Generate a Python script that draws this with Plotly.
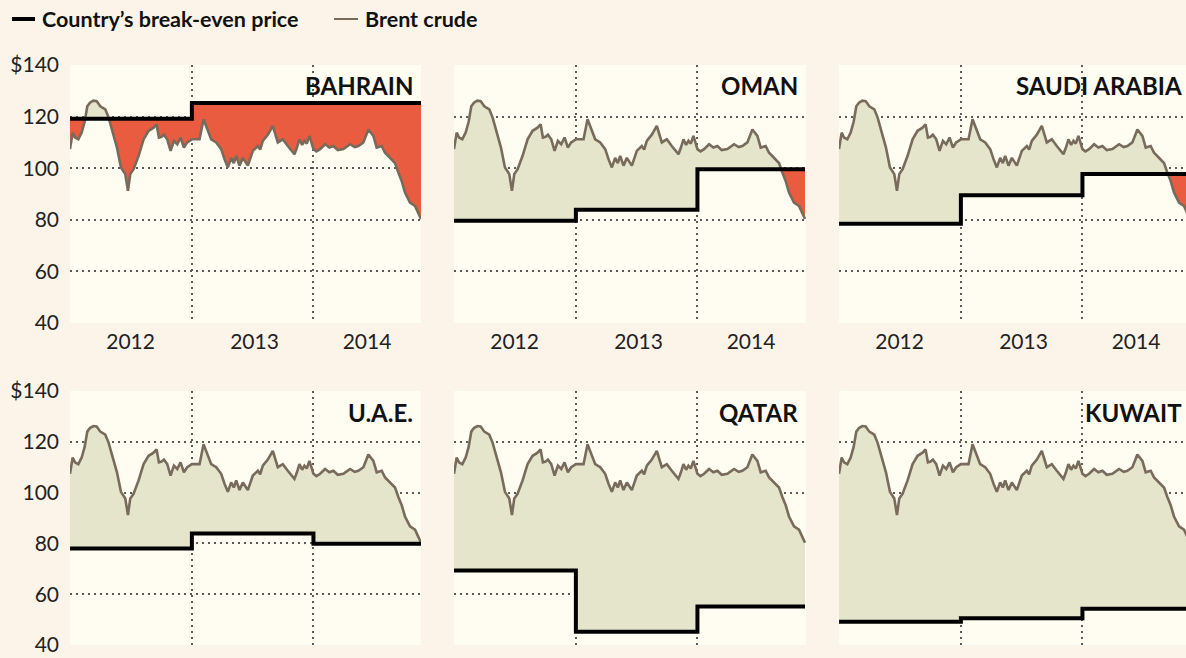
import numpy as np
import pandas as pd
import plotly.graph_objects as go

# ---------------- data ----------------
brent_dates = [
    "2012-01-01", "2012-01-09", "2012-01-16", "2012-01-26", "2012-02-05", "2012-02-14",
    "2012-02-22", "2012-03-01", "2012-03-11", "2012-03-21", "2012-04-01", "2012-04-16",
    "2012-04-26", "2012-05-06", "2012-05-21", "2012-06-02", "2012-06-15", "2012-06-23",
    "2012-06-30", "2012-07-10", "2012-07-25", "2012-08-09", "2012-08-24", "2012-09-08",
    "2012-09-17", "2012-09-24", "2012-10-02", "2012-10-09", "2012-10-19", "2012-10-29",
    "2012-11-08", "2012-11-18", "2012-11-28", "2012-12-08", "2012-12-18", "2013-01-01",
    "2013-01-24", "2013-02-05", "2013-02-18", "2013-02-28", "2013-03-15", "2013-03-30",
    "2013-04-09", "2013-04-19", "2013-04-29", "2013-05-07", "2013-05-14", "2013-05-24",
    "2013-06-03", "2013-06-10", "2013-06-18", "2013-07-03", "2013-07-18", "2013-07-25",
    "2013-08-02", "2013-08-17", "2013-09-01", "2013-09-16", "2013-10-01", "2013-10-16",
    "2013-11-05", "2013-11-12", "2013-11-20", "2013-11-28", "2013-12-05", "2013-12-12",
    "2013-12-20", "2014-01-01", "2014-01-10", "2014-01-21", "2014-02-05", "2014-02-18",
    "2014-03-02", "2014-03-15", "2014-04-01", "2014-04-21", "2014-05-05", "2014-05-16",
    "2014-05-31", "2014-06-15", "2014-06-30", "2014-07-10", "2014-07-25", "2014-08-04",
    "2014-08-19", "2014-09-03", "2014-09-13", "2014-09-23", "2014-10-03", "2014-10-18",
    "2014-11-02", "2014-11-20",
]
brent_values = [
    107.4, 113.8, 111.9, 111.2, 113.8, 118.0,
    124.0, 125.4, 126.2, 126.0, 124.0, 122.8,
    119.6, 115.0, 108.0, 100.3, 97.7, 91.2,
    97.7, 99.6, 104.8, 111.2, 114.5, 115.7,
    117.0, 111.9, 112.2, 113.0, 111.2, 106.7,
    110.6, 109.3, 111.9, 108.0, 110.0, 111.2,
    111.2, 119.0, 114.5, 111.2, 110.0, 107.4,
    103.5, 100.3, 104.0, 102.0, 104.8, 101.0,
    104.0, 102.5, 101.0, 106.7, 108.6, 107.2,
    110.6, 113.0, 116.4, 110.0, 111.2, 108.6,
    105.4, 107.8, 111.2, 109.0, 110.6, 109.5,
    112.5, 107.4, 106.5, 107.4, 109.3, 108.0,
    108.6, 107.0, 107.4, 109.3, 108.2, 108.6,
    110.0, 115.0, 112.5, 108.0, 108.6, 106.0,
    104.0, 102.0, 98.3, 95.0, 90.6, 86.7,
    85.4, 80.3,
]

countries = ["BAHRAIN", "OMAN", "SAUDI ARABIA", "U.A.E.", "QATAR", "KUWAIT"]
year_starts = ["2012-01-01", "2013-01-01", "2014-01-01"]
bahrain_be = [119.2, 125.3, 125.3]
oman_be = [79.6, 83.9, 99.6]
saudi_be = [78.5, 89.5, 97.8]
uae_be = [78.0, 83.9, 79.9]
qatar_be = [69.3, 45.2, 55.2]
kuwait_be = [49.2, 50.5, 54.3]
breakevens = [bahrain_be, oman_be, saudi_be, uae_be, qatar_be, kuwait_be]

y_ticks = [40, 60, 80, 100, 120, 140]
y_tick_labels = ["40", "60", "80", "100", "120", "$140"]
y_grid = [60, 80, 100, 120]
year_labels = ["2012", "2013", "2014"]
year_label_pos = ["2012-07-01", "2013-07-08", "2014-06-11"]
year_grid = ["2013-01-01", "2014-01-01"]

# ---------------- style / layout ----------------
W, H = 1186, 658
PAGE_BG = "#fcf4e8"
PANEL_BG = "#fffcf1"
GREEN = "#e4e5cb"
RED = "#e95c40"
BRENT_COL = "#786b5c"
GRID_COL = "#5a5a5a"
FONT = "Lato"

col_px = [(70, 421), (454, 806), (839, 1186)]
row_px = [(65, 323), (391, 645)]
x_start = pd.Timestamp("2012-01-01")
x_end_full = pd.Timestamp(brent_dates[-1])
px_per_day = (col_px[0][1] - col_px[0][0]) / (x_end_full - x_start).days

fig = go.Figure()

t_sec = pd.to_datetime(brent_dates).astype("int64").to_numpy() / 1e9
vals = np.array(brent_values, dtype=float)
edges = [pd.Timestamp(d).value / 1e9 for d in year_starts] + [t_sec[-1]]


def to_dt(arr):
    return [None if a is None else pd.to_datetime(a, unit="s") for a in arr]


def fill_polys(level_list):
    gx, gy, rx, ry = [], [], [], []
    for k in range(3):
        a, b, c = edges[k], edges[k + 1], level_list[k]
        mask = (t_sec > a) & (t_sec < b)
        xs = [a] + list(t_sec[mask]) + [b]
        ys = [float(np.interp(a, t_sec, vals))] + list(vals[mask]) + [float(np.interp(b, t_sec, vals))]
        X, Y = [xs[0]], [ys[0]]
        for i in range(1, len(xs)):
            y0, y1 = ys[i - 1], ys[i]
            if (y0 - c) * (y1 - c) < 0:
                f = (c - y0) / (y1 - y0)
                X.append(xs[i - 1] + f * (xs[i] - xs[i - 1]))
                Y.append(c)
            X.append(xs[i])
            Y.append(ys[i])
        X = np.array(X)
        Y = np.array(Y)
        up = np.maximum(Y, c)
        lo = np.minimum(Y, c)
        if np.any(up > c):
            gx += list(X) + list(X[::-1]) + [None]
            gy += list(up) + [c] * len(X) + [None]
        if np.any(lo < c):
            rx += list(X) + list(X[::-1]) + [None]
            ry += list(lo) + [c] * len(X) + [None]
    return gx, gy, rx, ry


for i, (name, be) in enumerate(zip(countries, breakevens)):
    r, cidx = divmod(i, 3)
    xref = "x" if i == 0 else f"x{i+1}"
    yref = "y" if i == 0 else f"y{i+1}"
    gx, gy, rx, ry = fill_polys(be)
    if gx:
        fig.add_trace(go.Scatter(x=to_dt(gx), y=gy, mode="lines", fill="toself",
                                 fillcolor=GREEN, line=dict(width=0), xaxis=xref, yaxis=yref,
                                 hoverinfo="skip", showlegend=False))
    if rx:
        fig.add_trace(go.Scatter(x=to_dt(rx), y=ry, mode="lines", fill="toself",
                                 fillcolor=RED, line=dict(width=0), xaxis=xref, yaxis=yref,
                                 hoverinfo="skip", showlegend=False))
    fig.add_trace(go.Scatter(x=brent_dates, y=brent_values, mode="lines",
                             line=dict(color=BRENT_COL, width=2.6), xaxis=xref, yaxis=yref,
                             name="Brent crude", showlegend=False))
    fig.add_trace(go.Scatter(x=year_starts + [brent_dates[-1]], y=be + [be[-1]], mode="lines",
                             line=dict(color="black", width=4, shape="hv"), xaxis=xref, yaxis=yref,
                             name="Country's break-even price", showlegend=False))

    x0p, x1p = col_px[cidx]
    y0p, y1p = row_px[r]
    x_end = x_start + pd.Timedelta(days=(x1p - x0p) / px_per_day)
    xkey = "xaxis" if i == 0 else f"xaxis{i+1}"
    ykey = "yaxis" if i == 0 else f"yaxis{i+1}"
    fig.update_layout(**{
        xkey: dict(domain=[x0p / W, x1p / W], anchor=yref, type="date", automargin=False,
                   range=[x_start, x_end], tickvals=year_label_pos, ticktext=year_labels,
                   showticklabels=(r == 0), showgrid=False, zeroline=False, showline=False,
                   ticks="", ticklabelstandoff=4, ticklabeloverflow="allow",
                   tickfont=dict(family=FONT, size=21, color="#222"),
                   minor=dict(tickvals=year_grid, showgrid=True, gridcolor=GRID_COL,
                              griddash="2px,4px", gridwidth=1.5, ticks=""),
                   fixedrange=True),
        ykey: dict(domain=[1 - y1p / H, 1 - y0p / H], anchor=xref, range=[40, 140],
                   automargin=False, ticklabeloverflow="allow",
                   tickvals=y_ticks, ticktext=y_tick_labels, showticklabels=(cidx == 0),
                   showgrid=False, zeroline=False, showline=False, ticks="",
                   ticklabelstandoff=10,
                   tickfont=dict(family=FONT, size=21, color="#222"),
                   minor=dict(tickvals=y_grid, showgrid=True, gridcolor=GRID_COL,
                              griddash="2px,4px", gridwidth=1.5, ticks=""),
                   fixedrange=True),
    })
    title_right = W - 2 if cidx == 2 else x1p - 6
    title_y = 85 if r == 0 else 412
    fig.add_annotation(text=f"<b>{name}</b>", xref="paper", yref="paper",
                       x=title_right / W, y=1 - title_y / H, xanchor="right", yanchor="middle",
                       showarrow=False, font=dict(family=FONT, size=24, color="#111"))

# custom legend
fig.add_shape(type="line", xref="paper", yref="paper", x0=12 / W, x1=35 / W,
              y0=1 - 19 / H, y1=1 - 19 / H, line=dict(color="black", width=4))
fig.add_annotation(text="<b>Country\u2019s break-even price</b>", xref="paper", yref="paper",
                   x=40 / W, y=1 - 19 / H, xanchor="left", yanchor="middle", showarrow=False,
                   font=dict(family=FONT, size=21.5, color="#111"))
fig.add_shape(type="line", xref="paper", yref="paper", x0=334 / W, x1=358 / W,
              y0=1 - 19 / H, y1=1 - 19 / H, line=dict(color=BRENT_COL, width=2))
fig.add_annotation(text="<b>Brent crude</b>", xref="paper", yref="paper",
                   x=363 / W, y=1 - 19 / H, xanchor="left", yanchor="middle", showarrow=False,
                   font=dict(family=FONT, size=21.5, color="#111"))

fig.update_layout(width=W, height=H,
                  margin=dict(l=0, r=0, t=0, b=0, pad=0, autoexpand=False),
                  paper_bgcolor=PAGE_BG, plot_bgcolor=PANEL_BG, showlegend=False,
                  font=dict(family=FONT))

page_fix = (
    "document.body.style.margin='0';document.body.style.overflow='hidden';"
    "document.body.style.background='" + PAGE_BG + "';"
    "var gd=document.getElementById('{plot_id}');"
    "gd.style.position='absolute';gd.style.left='0px';gd.style.top='0px';"
)
fig.write_html("out.html", config={"displayModeBar": False}, post_script=page_fix)
